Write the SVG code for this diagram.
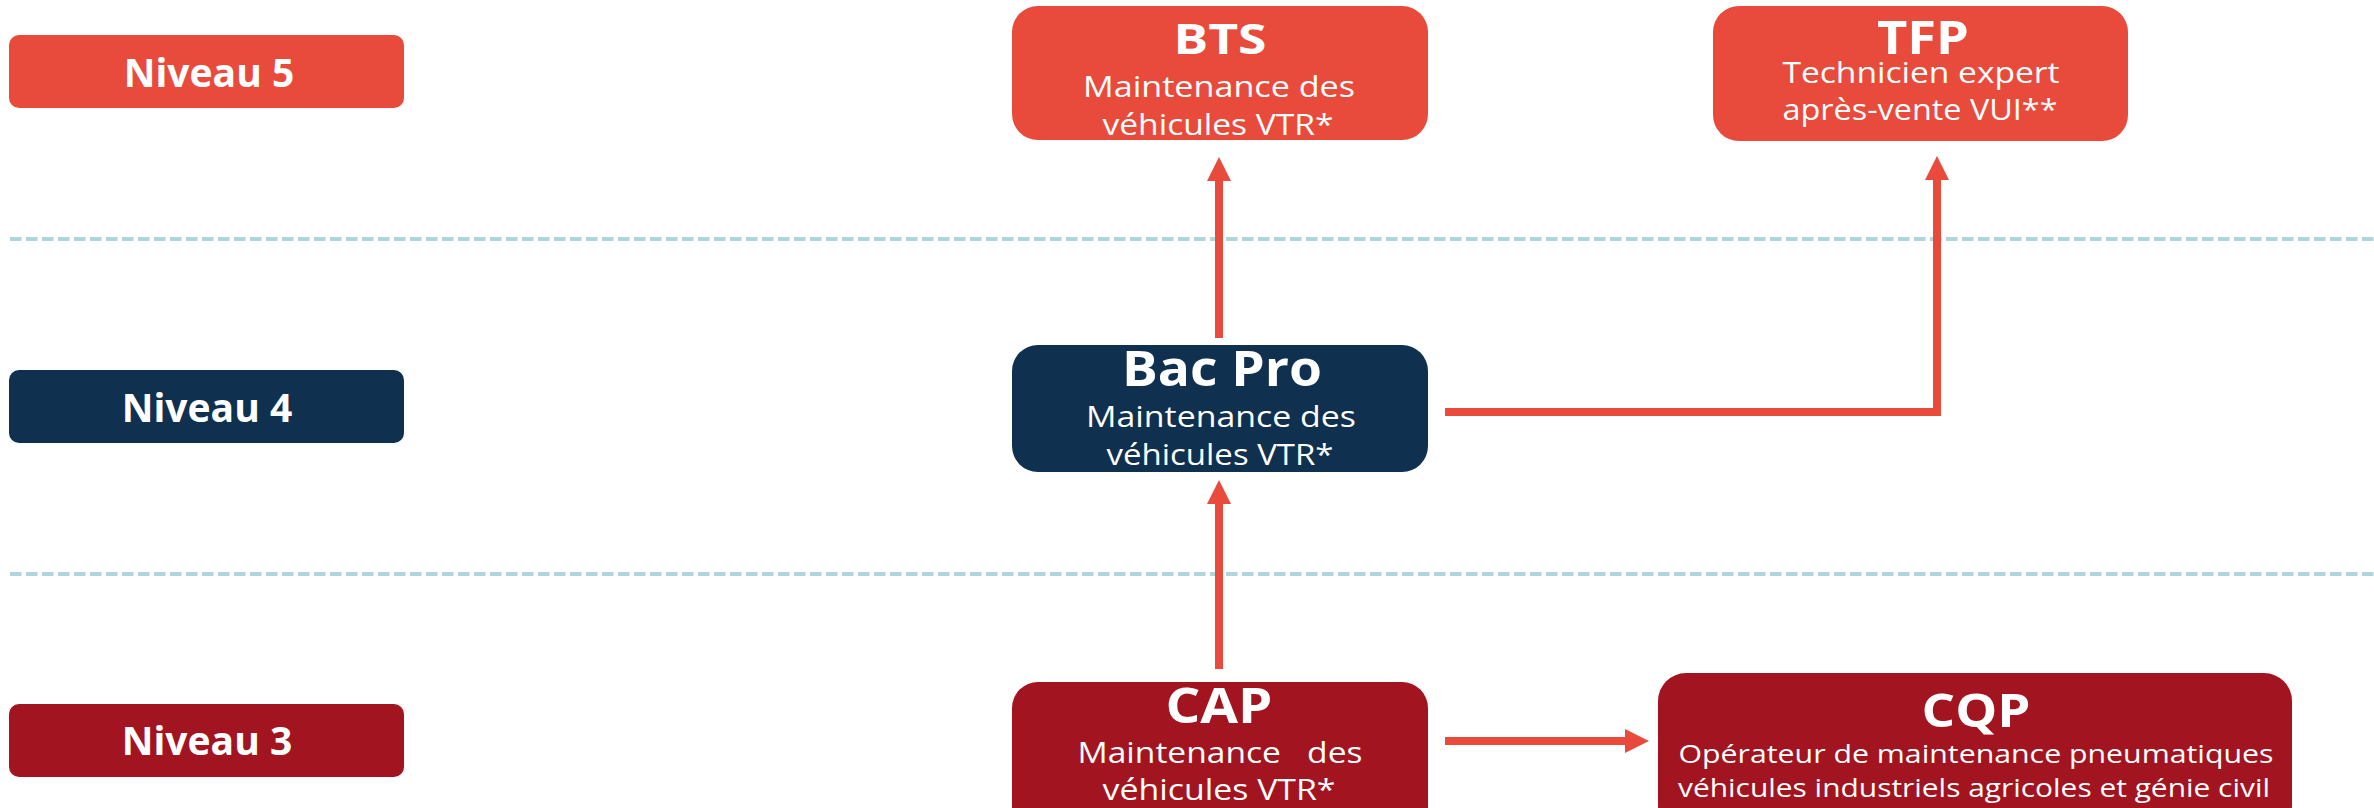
<svg xmlns="http://www.w3.org/2000/svg" width="2374" height="808" viewBox="0 0 2374 808">
  <style>
    text { font-family: "Open Sans", "Liberation Sans", sans-serif; fill: #ffffff; text-anchor: middle; }
    .lvl { font-size: 39px; font-weight: 700; }
    .ttl { font-weight: 700; }
    .sub { font-size: 30px; font-weight: 400; white-space: pre; }
    .sub2 { font-size: 26px; font-weight: 400; }
    .red { fill: #E84B3C; }
    .navy { fill: #10304F; }
    .dark { fill: #A2141F; }
    .dash { stroke: #B0D5DD; stroke-width: 4; stroke-dasharray: 11.5 4.5; fill: none; }
    .conn { stroke: #E84B3C; stroke-width: 8; fill: none; marker-end: url(#head); }
  </style>
  <defs>
    <marker id="head" markerUnits="userSpaceOnUse" markerWidth="24" markerHeight="24" viewBox="0 0 24 24" refX="0" refY="12" orient="auto">
      <path d="M0,0 L24,12 L0,24 z" fill="#E84B3C"/>
    </marker>
  </defs>

  <g id="separators">
    <line class="dash" x1="10" y1="239" x2="2374" y2="239"/>
    <line class="dash" x1="10" y1="574" x2="2374" y2="574"/>
  </g>

  <g id="niveau5">
    <rect class="red" x="9" y="35" width="395" height="73" rx="10"/>
    <text class="lvl" x="209" y="87">Niveau 5</text>
  </g>
  <g id="niveau4">
    <rect class="navy" x="9" y="370" width="395" height="73" rx="10"/>
    <text class="lvl" x="207" y="422">Niveau 4</text>
  </g>
  <g id="niveau3">
    <rect class="dark" x="9" y="704" width="395" height="73" rx="10"/>
    <text class="lvl" x="207" y="755">Niveau 3</text>
  </g>

  <g id="bts">
    <rect class="red" x="1012" y="6" width="416" height="134" rx="26"/>
    <text class="ttl" x="1220" y="54" font-size="41" textLength="93" lengthAdjust="spacingAndGlyphs">BTS</text>
    <text class="sub" x="1219" y="97" textLength="272" lengthAdjust="spacingAndGlyphs">Maintenance des</text>
    <text class="sub" x="1218" y="135" textLength="231" lengthAdjust="spacingAndGlyphs">véhicules VTR*</text>
  </g>

  <g id="tfp">
    <rect class="red" x="1713" y="6" width="415" height="135" rx="26"/>
    <text class="ttl" x="1923" y="54" font-size="47" textLength="92" lengthAdjust="spacingAndGlyphs">TFP</text>
    <text class="sub" x="1921" y="83" textLength="277" lengthAdjust="spacingAndGlyphs">Technicien expert</text>
    <text class="sub" x="1920" y="120" textLength="275" lengthAdjust="spacingAndGlyphs">après-vente VUI**</text>
  </g>

  <g id="bacpro">
    <rect class="navy" x="1012" y="345" width="416" height="127" rx="26"/>
    <text class="ttl" x="1222" y="386" font-size="48" textLength="200" lengthAdjust="spacingAndGlyphs">Bac Pro</text>
    <text class="sub" x="1221" y="427" textLength="270" lengthAdjust="spacingAndGlyphs">Maintenance des</text>
    <text class="sub" x="1220" y="465" textLength="227" lengthAdjust="spacingAndGlyphs">véhicules VTR*</text>
  </g>

  <g id="cap">
    <rect class="dark" x="1012" y="682" width="416" height="150" rx="26"/>
    <text class="ttl" x="1219" y="723" font-size="49" textLength="107" lengthAdjust="spacingAndGlyphs">CAP</text>
    <text class="sub" x="1220" y="763" textLength="285" lengthAdjust="spacingAndGlyphs">Maintenance   des</text>
    <text class="sub" x="1219" y="800" textLength="233" lengthAdjust="spacingAndGlyphs">véhicules VTR*</text>
  </g>

  <g id="cqp">
    <rect class="dark" x="1658" y="673" width="634" height="160" rx="28"/>
    <text class="ttl" x="1976" y="727" font-size="47" textLength="109" lengthAdjust="spacingAndGlyphs">CQP</text>
    <text class="sub2" x="1976" y="763" textLength="595" lengthAdjust="spacingAndGlyphs">Opérateur de maintenance pneumatiques</text>
    <text class="sub2" x="1974" y="797" textLength="592" lengthAdjust="spacingAndGlyphs">véhicules industriels agricoles et génie civil</text>
  </g>

  <g id="connectors">
    <path class="conn" d="M1219,669 L1219,504"/>
    <path class="conn" d="M1219,338 L1219,181"/>
    <path class="conn" d="M1445,412 L1937,412 L1937,180"/>
    <path class="conn" d="M1445,741 L1625,741"/>
  </g>
</svg>
